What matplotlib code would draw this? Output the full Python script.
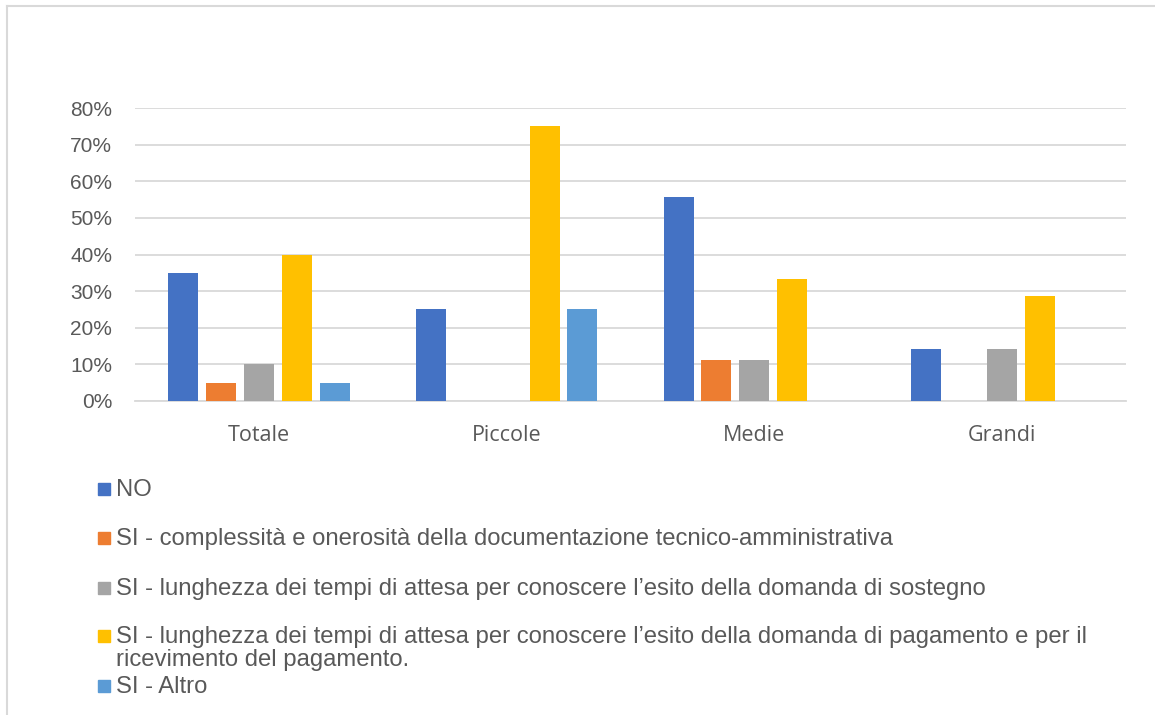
import matplotlib
matplotlib.use("Agg")
import matplotlib.pyplot as plt
from matplotlib.patches import Rectangle
from matplotlib.lines import Line2D
import numpy as np

categories = ["Totale", "Piccole", "Medie", "Grandi"]
series_names = [
    "NO",
    "SI - complessità e onerosità della documentazione tecnico-amministrativa",
    "SI - lunghezza dei tempi di attesa per conoscere l\u2019esito della domanda di sostegno",
    "SI - lunghezza dei tempi di attesa per conoscere l\u2019esito della domanda di pagamento e per il\nricevimento del pagamento.",
    "SI - Altro",
]
no_vals = [0.35, 0.25, 0.556, 0.143]
compl_vals = [0.05, 0.0, 0.111, 0.0]
sostegno_vals = [0.10, 0.0, 0.111, 0.143]
pagamento_vals = [0.40, 0.75, 0.333, 0.286]
altro_vals = [0.05, 0.25, 0.0, 0.0]
yticks = [0, 0.1, 0.2, 0.3, 0.4, 0.5, 0.6, 0.7, 0.8]
ytick_labels = ["0%", "10%", "20%", "30%", "40%", "50%", "60%", "70%", "80%"]

colors = ["#4472C4", "#ED7D31", "#A5A5A5", "#FFC000", "#5B9BD5"]
all_vals = [no_vals, compl_vals, sostegno_vals, pagamento_vals, altro_vals]

W, H = 1155, 715
fig = plt.figure(figsize=(W / 100, H / 100), dpi=100)
fig.patch.set_facecolor("white")

def fx(px):
    return px / W

def fy(py):
    return 1 - py / H

ax = fig.add_axes([fx(135), fy(401), fx(1126) - fx(135), fy(108) - fy(401)])
x = np.arange(len(categories))
bw = 0.121
step = 0.153
for i, (vals, c) in enumerate(zip(all_vals, colors)):
    ax.bar(x + (i - 2) * step, vals, width=bw, color=c, zorder=3)

ax.set_xlim(-0.5, len(categories) - 0.5)
ax.set_ylim(0, 0.8)
ax.set_yticks(yticks)
ax.set_yticklabels(ytick_labels, family="Liberation Sans", fontsize=15, color="#595959")
ax.set_xticks(x)
ax.set_xticklabels(categories, family="Open Sans", fontsize=15.5, color="#595959")
ax.tick_params(axis="both", length=0)
ax.tick_params(axis="y", pad=16.5)
ax.tick_params(axis="x", pad=17)
ax.grid(axis="y", color="#D9D9D9", linewidth=1.3, zorder=0)
for s in ["top", "right", "left"]:
    ax.spines[s].set_visible(False)
ax.spines["bottom"].set_color("#D9D9D9")
ax.spines["bottom"].set_linewidth(1.3)
ax.set_facecolor("none")

# outer frame of the chart area
fig.add_artist(Line2D([fx(7), fx(7)], [fy(6), 0], color="#D9D9D9", lw=1.5, transform=fig.transFigure))
fig.add_artist(Line2D([fx(7), 1], [fy(6), fy(6)], color="#D9D9D9", lw=1.5, transform=fig.transFigure))

# legend (manual, Excel style)
baselines = [496, 545, 595, 643, 693]
for name, c, b in zip(series_names, colors, baselines):
    fig.add_artist(Rectangle((fx(98), fy(b - 1)), fx(12), fy(b - 13) - fy(b - 1),
                             transform=fig.transFigure, color=c))
    first, *rest = name.split("\n")
    fig.text(fx(116), fy(b), first, family="Liberation Sans", fontsize=17.2,
             color="#595959", va="baseline", ha="left")
    for k, line in enumerate(rest):
        fig.text(fx(116), fy(b + 23 * (k + 1)), line, family="Liberation Sans",
                 fontsize=17.2, color="#595959", va="baseline", ha="left")

fig.savefig("out.png", dpi=100)
